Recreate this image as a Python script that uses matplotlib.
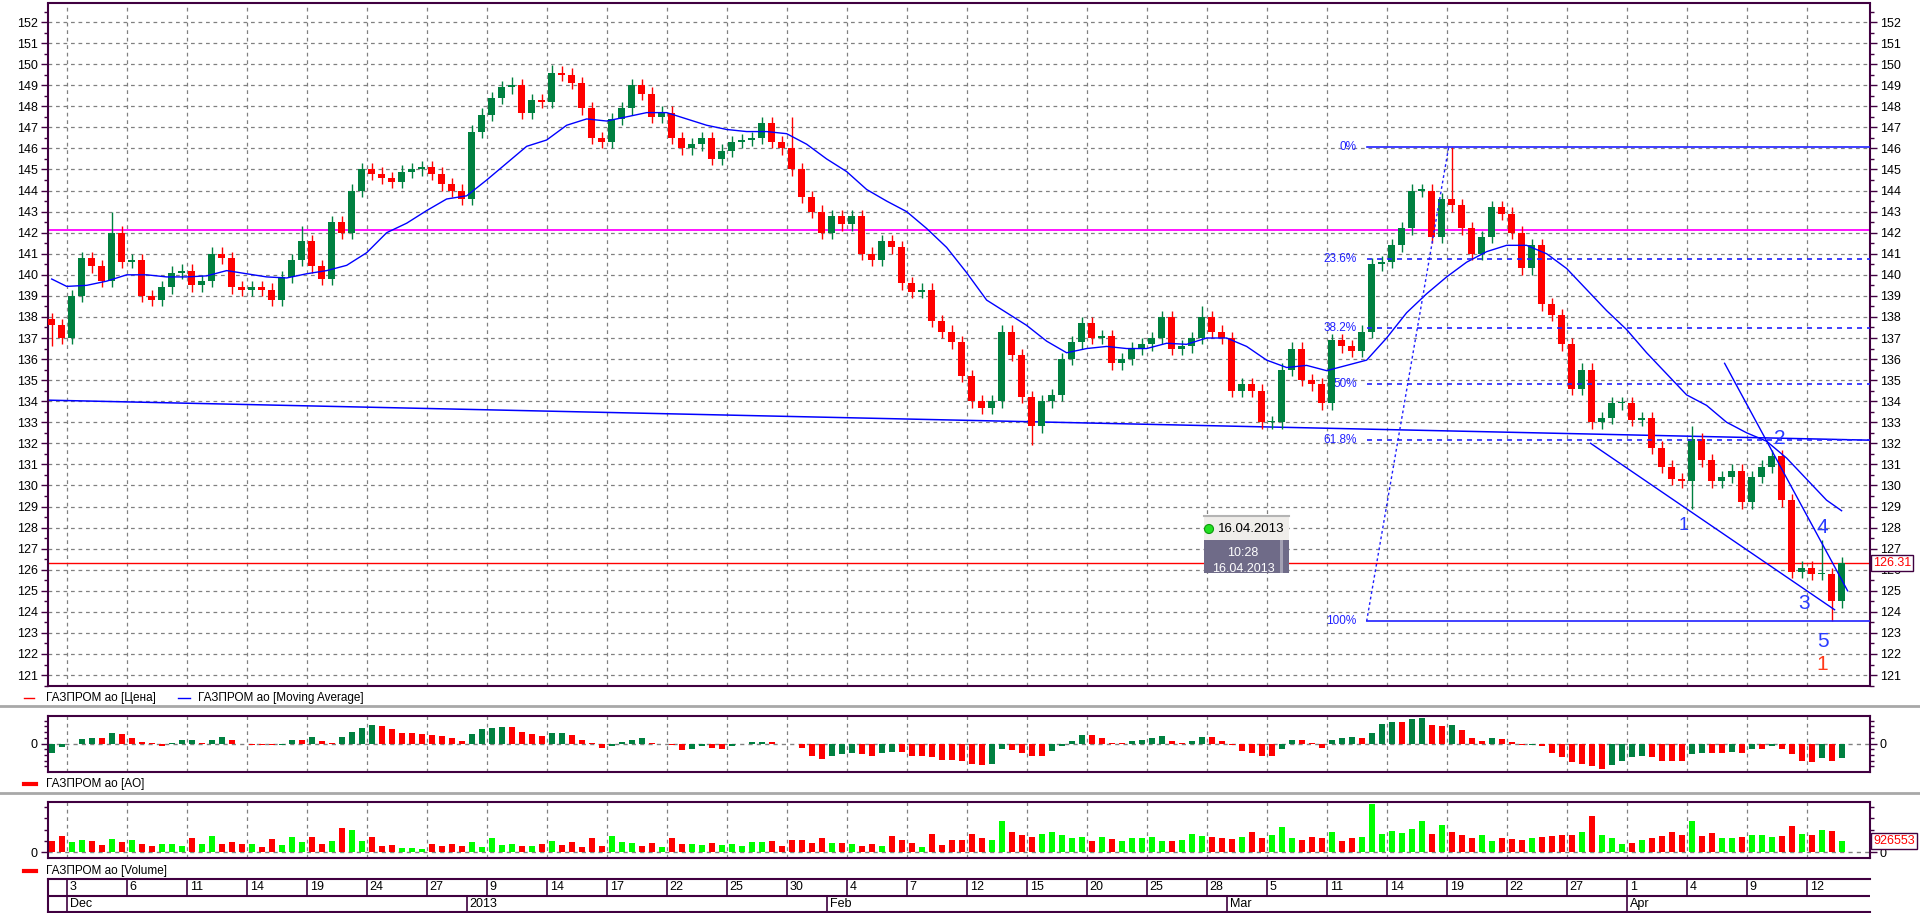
import numpy as np
import matplotlib.pyplot as plt
import matplotlib.transforms as mtrans
from matplotlib.patches import Rectangle, Circle
from matplotlib.ticker import MultipleLocator, FixedLocator, FixedFormatter

plt.rcParams['font.family'] = ['Liberation Sans', 'DejaVu Sans']

# ---- data (two candles per trading day, 03.12.2012 - 16.04.2013) ----
closes = [
    137.6, 137.0, 139.0, 140.8, 140.4, 139.7, 142.0, 140.6, 140.7, 139.0,
    138.8, 139.4, 140.1, 140.2, 139.5, 139.7, 141.0, 140.8, 139.4, 139.3,
    139.4, 139.3, 138.8, 139.9, 140.7, 141.6, 140.4, 139.8, 142.5, 142.0,
    144.0, 145.0, 144.8, 144.6, 144.4, 144.9, 145.0, 145.1, 144.8, 144.3,
    144.0, 143.6, 146.8, 147.6, 148.4, 148.9, 149.0, 147.7, 148.3, 148.2,
    149.6, 149.5, 149.1, 147.9, 146.5, 146.3, 147.4, 147.9, 149.0, 148.6,
    147.5, 147.7, 146.5, 146.0, 146.2, 146.5, 145.5, 145.9, 146.3, 146.4,
    146.5, 147.2, 146.3, 146.0, 145.0, 143.7, 143.0, 142.0, 142.8, 142.4,
    142.8, 141.0, 140.7, 141.6, 141.3, 139.6, 139.2, 139.3, 137.8, 137.3,
    136.8, 135.2, 134.0, 133.7, 134.0, 137.3, 136.2, 134.2, 132.8, 134.0,
    134.3, 136.0, 136.8, 137.7, 137.0, 137.1, 135.8, 136.0, 136.5, 136.7,
    137.0, 138.0, 136.5, 136.6, 137.0, 138.0, 137.3, 137.0, 134.5, 134.8,
    134.5, 133.0, 133.0, 135.5, 136.5, 135.0, 134.8, 133.9, 136.9, 136.6,
    136.4, 137.3, 140.5, 140.6, 141.4, 142.2, 144.0, 144.0, 141.8, 143.6,
    143.3, 142.2, 141.0, 141.8, 143.2, 142.9, 142.0, 140.3, 141.4, 138.6,
    138.1, 136.7, 134.6, 135.5, 133.0, 133.2, 133.9, 133.9, 133.1, 133.2,
    131.8, 130.9, 130.3, 130.2, 132.2, 131.2, 130.2, 130.4, 130.7, 129.2,
    130.4, 130.9, 131.4, 129.3, 125.9, 126.1, 125.8, 125.8, 124.5, 126.31,
]
first_open = 137.9
high_marks = {6: 143.0, 25: 142.3, 46: 149.4, 50: 149.95, 58: 149.3, 74: 147.5,
              95: 137.6, 115: 138.5, 140: 146.05, 164: 132.8, 177: 127.4}
low_marks = {0: 136.6, 98: 131.9, 164: 128.9, 178: 123.55}

ma_days = [-0.75] + list(range(89)) + [88.75]
ma_vals = [
    139.8,
    139.45, 139.5, 139.7, 140.0, 140.0, 139.9, 139.9, 139.95, 140.2, 140.05,
    139.9, 139.85, 140.05, 140.2, 140.45, 141.05, 142.0, 142.45, 143.05, 143.6,
    143.75, 144.5, 145.3, 146.1, 146.4, 147.1, 147.4, 147.3, 147.5, 147.7,
    147.7, 147.4, 147.1, 146.9, 146.8, 146.8, 146.7, 146.2, 145.5, 144.9,
    144.05, 143.5, 143.0, 142.2, 141.3, 140.1, 138.8, 138.2, 137.6, 136.85,
    136.3, 136.5, 136.6, 136.5, 136.5, 136.75, 136.7, 137.0, 137.0, 136.6,
    135.95, 135.6, 135.7, 135.45, 135.7, 135.95, 137.0, 138.2, 139.1, 139.9,
    140.6, 141.1, 141.4, 141.4, 141.0, 140.3, 139.3, 138.3, 137.4, 136.3,
    135.3, 134.3, 133.8, 133.0, 132.5, 132.1, 131.3, 130.3, 129.3,
    128.8,
]

ao_vals = [
    -1.7, -0.6, -0.1, 0.8, 1.0, 1.0, 1.8, 1.6, 1.0, 0.2,
    0.1, -0.5, 0.1, 0.6, 0.7, 0.1, 0.7, 1.1, 0.7, -0.1,
    -0.2, -0.3, -0.3, -0.2, 0.6, 0.6, 1.2, 0.4, 0.1, 1.1,
    2.0, 2.7, 3.2, 3.1, 2.5, 1.9, 1.8, 1.7, 1.5, 1.3,
    0.9, 0.5, 1.7, 2.5, 2.8, 2.9, 2.9, 2.1, 1.7, 1.4,
    1.8, 1.9, 1.5, 0.6, 0.1, -0.8, -0.4, 0.3, 0.6, 0.9,
    0.1, 0.0, -0.2, -1.1, -0.9, -0.5, -0.7, -0.9, -0.5, 0.0,
    0.2, 0.3, 0.2, -0.1, -0.1, -0.8, -2.1, -2.7, -2.1, -1.9,
    -1.7, -1.9, -2.2, -1.7, -1.4, -1.5, -2.1, -2.1, -2.4, -2.8,
    -2.8, -3.0, -3.6, -3.8, -3.5, -1.0, -1.2, -1.6, -2.2, -2.2,
    -1.3, -0.4, 0.4, 1.5, 1.5, 1.0, 0.1, 0.1, 0.5, 0.7,
    0.9, 1.4, 0.4, 0.1, 0.5, 1.1, 1.1, 0.4, -0.3, -1.3,
    -1.7, -2.1, -2.1, -0.9, 0.7, 0.6, 0.1, -0.8, 0.6, 0.9,
    1.1, 1.0, 1.8, 3.4, 3.7, 3.7, 4.3, 4.4, 3.3, 3.0,
    3.2, 2.3, 1.0, 0.5, 0.9, 0.8, 0.2, -0.3, -0.2, -0.5,
    -1.6, -2.4, -3.2, -3.5, -4.0, -4.4, -3.8, -3.1, -2.4, -2.1,
    -2.3, -3.0, -3.0, -3.0, -1.9, -1.7, -1.7, -1.7, -1.5, -1.6,
    -1.0, -1.0, -0.5, -0.9, -1.9, -3.1, -3.2, -2.6, -3.1, -2.6,
]

# volume, thousands of shares
volumes = [
    924, 1344, 840, 1008, 924, 588, 1134, 840, 1008, 672,
    546, 672, 672, 504, 1176, 672, 1344, 672, 840, 672,
    714, 420, 1092, 630, 1302, 840, 1302, 714, 924, 2016,
    1848, 966, 1260, 504, 630, 336, 336, 294, 672, 504,
    672, 546, 882, 420, 1176, 588, 672, 546, 546, 672,
    966, 588, 882, 420, 1176, 546, 1386, 882, 756, 504,
    756, 420, 1218, 672, 672, 630, 756, 588, 672, 504,
    882, 882, 966, 504, 1008, 1008, 756, 1218, 756, 756,
    672, 504, 672, 546, 1386, 1008, 756, 420, 1512, 588,
    1008, 1008, 1512, 1176, 1008, 2604, 1680, 1428, 1260, 1512,
    1680, 1428, 1176, 1260, 924, 1260, 1092, 924, 1176, 1176,
    1260, 924, 924, 1008, 1512, 1344, 1260, 1176, 1092, 1260,
    1680, 1176, 1428, 2100, 1176, 1008, 1260, 1176, 1680, 924,
    1176, 1260, 4032, 1512, 1764, 1596, 1932, 2604, 1512, 2268,
    1680, 1428, 1176, 1428, 924, 1176, 1092, 1008, 1176, 1260,
    1344, 1428, 1428, 1680, 3024, 1428, 1176, 672, 756, 1008,
    1176, 1344, 1680, 1428, 2604, 1344, 1596, 1176, 1176, 1260,
    1428, 1428, 1260, 1344, 2184, 1512, 1428, 1848, 1764, 926.553,
]

date_labels = ['3', '6', '11', '14', '19', '24', '27', '9', '14', '17', '22', '25',
               '30', '4', '7', '12', '15', '20', '25', '28', '5', '11', '14', '19',
               '22', '27', '1', '4', '9', '12']
month_labels = ['Dec', '2013', 'Feb', 'Mar', 'Apr']
month_days = [0, 20, 38, 58, 78]

support_level = 142.15
last_price = 126.31
long_trend_x, long_trend_y = [-0.95, 90.17], [134.05, 132.15]
channel_x, channel_y = [76.2, 88.4], [132.0, 124.1]
wave4_x, wave4_y = [82.9, 89.05], [135.8, 125.0]
fib_high, fib_low, fib_start = 146.05, 123.55, 65.0
fib_levels = [0, 23.6, 38.2, 50, 61.8, 100]
fib_diag_x, fib_diag_y = [65.0, 69.1], [123.55, 146.05]
wave_labels = ['1', '2', '3', '4', '5']
wave_x = [80.85, 85.65, 86.85, 87.8, 87.8]
wave_y = [128.1, 132.25, 124.4, 128.0, 122.6]

# ---- style ----
PURPLE = '#400040'
GREEN = '#008040'
RED = '#ff0000'
BLUE = '#0000ff'
FIB = '#2020ff'
GRID = '#808080'
x_lo, x_hi = -0.95, 90.17
tick_days = np.arange(len(date_labels)) * 3

fig = plt.figure(figsize=(19.2, 9.13), dpi=100)
L, W = 47.7 / 1920, (1870 - 47.7) / 1920


def box(top, bottom):
    return [L, 1 - bottom / 913, W, (bottom - top) / 913]


ax = fig.add_axes(box(3.5, 686))
ax_ao = fig.add_axes(box(715.5, 771.5))
ax_v = fig.add_axes(box(802, 858))
ax_d = fig.add_axes(box(879, 912))

for a in (ax, ax_ao, ax_v):
    for s in a.spines.values():
        s.set_color(PURPLE)
        s.set_linewidth(1.5)
    a.set_xlim(x_lo, x_hi)
    a.set_xticks(tick_days)
    a.tick_params(axis='x', length=0, labelbottom=False)
    a.grid(axis='x', color=GRID, lw=0.9, ls=(0, (3, 3)))
    a.set_axisbelow(True)
    a.tick_params(axis='y', which='both', left=True, right=True, labelleft=True,
                  labelright=True, color=PURPLE, labelsize=9)
    a.tick_params(axis='y', which='major', length=5, width=1, pad=2)
    a.tick_params(axis='y', which='minor', length=3, width=1)

# main price panel
ax.set_ylim(120.48, 152.88)
ax.yaxis.set_major_locator(MultipleLocator(1))
ax.yaxis.set_minor_locator(MultipleLocator(0.5))
ax.grid(axis='y', which='major', color=GRID, lw=0.9, ls=(0, (3, 3)))

n = len(closes)
xs = -0.75 + 0.5 * np.arange(n)
cl = np.array(closes)
opens = np.r_[first_open, cl[:-1]]
up = cl >= opens
body_lo = np.minimum(opens, cl)
body_hi = np.maximum(opens, cl)
highs = body_hi + 0.3
lows = body_lo - 0.3
for i, v in high_marks.items():
    highs[i] = v
for i, v in low_marks.items():
    lows[i] = v
cols = np.where(up, GREEN, RED)

ax.axhline(support_level, color='#ff00ff', lw=1.3, zorder=2)
ax.plot(long_trend_x, long_trend_y, color=BLUE, lw=1.1, zorder=2)
ax.axhline(last_price, color=RED, lw=1, zorder=2)

ax.vlines(xs, lows, highs, colors=cols, lw=1, zorder=3)
ax.bar(xs, np.maximum(body_hi - body_lo, 0.06), bottom=body_lo, width=0.32,
       color=cols, zorder=4)
ax.plot(ma_days, ma_vals, color=BLUE, lw=1, zorder=5)

# fibonacci retracement
for lvl in fib_levels:
    y = fib_high - (fib_high - fib_low) * lvl / 100
    ls = '-' if lvl in (0, 100) else (0, (3, 3))
    ax.plot([fib_start, x_hi], [y, y], color=FIB, lw=1.2, ls=ls, zorder=5)
    ax.text(64.5, y, f'{lvl:g}%', color=FIB, fontsize=8.5, ha='right', va='center')
ax.plot(fib_diag_x, fib_diag_y, color=FIB, lw=1, ls=(0, (2, 2)), zorder=5)

ax.plot(channel_x, channel_y, color=BLUE, lw=1, zorder=5)
ax.plot(wave4_x, wave4_y, color=BLUE, lw=1, zorder=5)
for s, x, y in zip(wave_labels, wave_x, wave_y):
    ax.text(x, y, s, color='#2a3cff', fontsize=13 if s == '1' else 15,
            ha='center', va='center', zorder=6)
ax.text(87.8, 121.5, '1', color='#ff3a1a', fontsize=15, ha='center', va='center', zorder=6)

right_tag = mtrans.blended_transform_factory(ax.transAxes, ax.transData)
ax.text(1.0018, last_price, f'{last_price:.2f}', transform=right_tag, color=RED,
        fontsize=9, ha='left', va='center', zorder=7,
        bbox=dict(boxstyle='square,pad=0.15', fc='white', ec=PURPLE, lw=1))

# awesome oscillator panel
ao = np.array(ao_vals)
rising = np.r_[True, ao[1:] > ao[:-1]]
ax_ao.bar(xs, ao, width=0.3, color=np.where(rising, GREEN, RED), zorder=3)
ax_ao.axhline(0, color=GRID, lw=1, ls=(0, (3, 3)), zorder=2)
ax_ao.set_ylim(-4.9, 4.9)
ax_ao.yaxis.set_major_locator(FixedLocator([0]))
ax_ao.yaxis.set_major_formatter(FixedFormatter(['0']))
ax_ao.yaxis.set_minor_locator(MultipleLocator(1.0))

# volume panel
ax_v.bar(xs, volumes, width=0.3, color=np.where(up, '#00ff00', RED), zorder=3)
ax_v.axhline(0, color=GRID, lw=1, ls=(0, (3, 3)), zorder=2)
ax_v.set_ylim(-504, 4200)
ax_v.yaxis.set_major_locator(FixedLocator([0]))
ax_v.yaxis.set_major_formatter(FixedFormatter(['0']))
ax_v.yaxis.set_minor_locator(MultipleLocator(940))
vol_tag = mtrans.blended_transform_factory(ax_v.transAxes, ax_v.transData)
ax_v.text(1.0018, volumes[-1], f'{volumes[-1] * 1000:.0f}', transform=vol_tag,
          color=RED, fontsize=9, ha='left', va='center', zorder=7,
          bbox=dict(boxstyle='square,pad=0.15', fc='white', ec=PURPLE, lw=1))

# date axis table
ax_d.set_xlim(x_lo, x_hi)
ax_d.set_ylim(0, 2)
ax_d.set_xticks([])
ax_d.set_yticks([])
for k, s in ax_d.spines.items():
    s.set_color(PURPLE)
    s.set_linewidth(1.5)
ax_d.spines['right'].set_visible(False)
ax_d.axhline(1, color=PURPLE, lw=1.5)
ax_d.vlines(tick_days, 1, 2, color=PURPLE, lw=1.2)
ax_d.vlines(month_days, 0, 1, color=PURPLE, lw=1.2)
for d, s in zip(tick_days, date_labels):
    ax_d.text(d + 0.15, 1.5, s, fontsize=9, ha='left', va='center')
for d, s in zip(month_days, month_labels):
    ax_d.text(d + 0.15, 0.5, s, fontsize=9, ha='left', va='center')

# overlay in pixel coordinates: legends, separators, hint box
ov = fig.add_axes([0, 0, 1, 1], zorder=10)
ov.set_xlim(0, 1920)
ov.set_ylim(913, 0)
ov.axis('off')

for y in (706.5, 793.5):
    ov.plot([0, 1920], [y, y], color='#a8a8a8', lw=2)
ov.plot([24, 34], [698, 698], color=RED, lw=1)
ov.text(46.5, 698, 'ГАЗПРОМ ао [Цена]', fontsize=8.5, va='center')
ov.plot([178, 190], [698, 698], color=BLUE, lw=1)
ov.text(198, 698, 'ГАЗПРОМ ао [Moving Average]', fontsize=8.5, va='center')
ov.plot([24, 36], [784, 784], color=RED, lw=3)
ov.text(46.5, 784, 'ГАЗПРОМ ао [AO]', fontsize=8.5, va='center')
ov.plot([24, 36], [871, 871], color=RED, lw=3)
ov.text(46.5, 871, 'ГАЗПРОМ ао [Volume]', fontsize=8.5, va='center')

ov.add_patch(Rectangle((1204, 515), 85, 25, fc='#efedea', ec='none'))
ov.plot([1204, 1289], [516, 516], color='#b4b4b4', lw=1.5)
dark = Rectangle((1204, 540), 85, 33, fc='#6f6b88', ec='none')
ov.add_patch(dark)
ov.add_patch(Rectangle((1280, 540), 3, 33, fc='#a4a1b4', ec='none'))
ov.add_patch(Circle((1209, 529), 4.5, fc='#22e022', ec='#0b9a0b', lw=0.8))
ov.text(1218, 529, '16.04.2013', fontsize=9.5, va='center', ha='left', color='black')
ov.text(1243, 553, '10:28', fontsize=9, va='center', ha='center', color='white')
t = ov.text(1243, 569, '16.04.2013', fontsize=9, va='center', ha='center', color='white')
t.set_clip_path(dark)

fig.savefig('out.png', dpi=100)
